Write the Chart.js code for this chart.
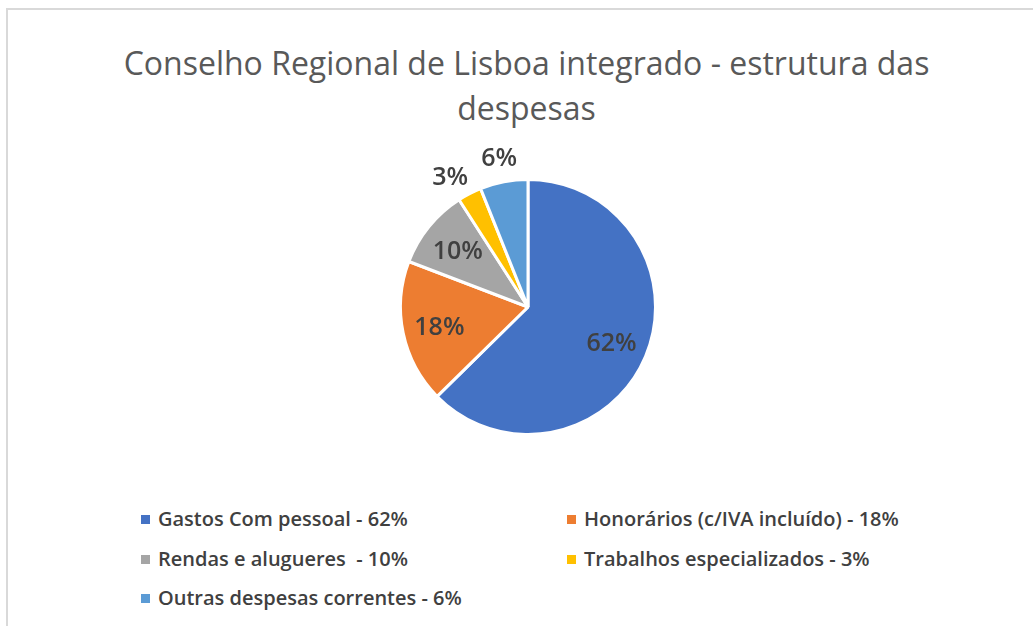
<!DOCTYPE html>
<html>
<head>
<meta charset="utf-8">
<script src="https://cdn.jsdelivr.net/npm/chart.js@4/dist/chart.umd.min.js"></script>
<style>
  html, body { margin: 0; padding: 0; background: #fff; }
  body { width: 1033px; height: 626px; position: relative; overflow: hidden; font-family: "Open Sans", sans-serif; }
  #frame { position: absolute; left: 6px; top: 8px; width: 1040px; height: 640px; border-left: 2px solid #d9d9d9; border-top: 2px solid #d9d9d9; }
  #title { position: absolute; left: 0; width: 1053px; top: 40px; text-align: center; color: #595959; font-size: 32px; line-height: 45px; }
  #wrap { position: absolute; left: 328px; top: 137px; width: 400px; height: 340px; }
  #legend { position: absolute; left: 141px; top: 505px; width: 800px; }
  .item { position: absolute; height: 28px; line-height: 28px; color: #404040; font-size: 20px; font-weight: 600; white-space: pre; }
  .box { display: inline-block; width: 9px; height: 9px; margin-right: 8px; vertical-align: 2px; }
</style>
</head>
<body>
<div id="frame"></div>
<div id="title">Conselho Regional de Lisboa integrado - estrutura das<br>despesas</div>
<div id="wrap"><canvas id="c" width="400" height="340"></canvas></div>
<div id="legend"></div>
<script>
const categories = ["Gastos Com pessoal - 62%", "Honorários (c/IVA incluído) - 18%", "Rendas e alugueres  - 10%", "Trabalhos especializados - 3%", "Outras despesas correntes - 6%"];
const values = [62, 18, 10, 3, 6];
const valueLabels = ["62%", "18%", "10%", "3%", "6%"];
const colors = ["#4472C4", "#ED7D31", "#A5A5A5", "#FFC000", "#5B9BD5"];
const outsideLabel = [false, false, false, true, true];

// HTML legend (2 columns)
const legend = document.getElementById('legend');
categories.forEach((name, i) => {
  const d = document.createElement('div');
  d.className = 'item';
  d.style.left = (i % 2 === 0 ? 0 : 426) + 'px';
  d.style.top = (Math.floor(i / 2) * 39.5) + 'px';
  const b = document.createElement('span');
  b.className = 'box';
  b.style.background = colors[i];
  d.appendChild(b);
  d.appendChild(document.createTextNode(name));
  legend.appendChild(d);
});

const labelPlugin = {
  id: 'sliceLabels',
  afterDatasetsDraw(chart) {
    const ctx = chart.ctx;
    const meta = chart.getDatasetMeta(0);
    ctx.save();
    ctx.font = '600 25px "Open Sans"';
    ctx.fillStyle = '#404040';
    ctx.textAlign = 'center';
    ctx.textBaseline = 'middle';
    meta.data.forEach((arc, i) => {
      const p = arc.getProps(['x', 'y', 'startAngle', 'endAngle', 'outerRadius'], true);
      let mid = (p.startAngle + p.endAngle) / 2;
      // small outside slices: nudge apart to avoid overlap
      if (outsideLabel[i] && outsideLabel[i + 1]) mid -= 0.06;
      const r = outsideLabel[i] ? p.outerRadius + 25 : p.outerRadius * 0.71;
      ctx.fillText(valueLabels[i], p.x + Math.cos(mid) * r, p.y + Math.sin(mid) * r + 2);
    });
    ctx.restore();
  }
};

new Chart(document.getElementById('c'), {
  type: 'pie',
  data: {
    labels: categories,
    datasets: [{
      data: values,
      backgroundColor: colors,
      borderColor: '#ffffff',
      borderWidth: 3
    }]
  },
  options: {
    responsive: false,
    animation: false,
    layout: { padding: { top: 41, bottom: 41 } },
    plugins: { legend: { display: false }, tooltip: { enabled: false } }
  },
  plugins: [labelPlugin]
});
</script>
</body>
</html>
